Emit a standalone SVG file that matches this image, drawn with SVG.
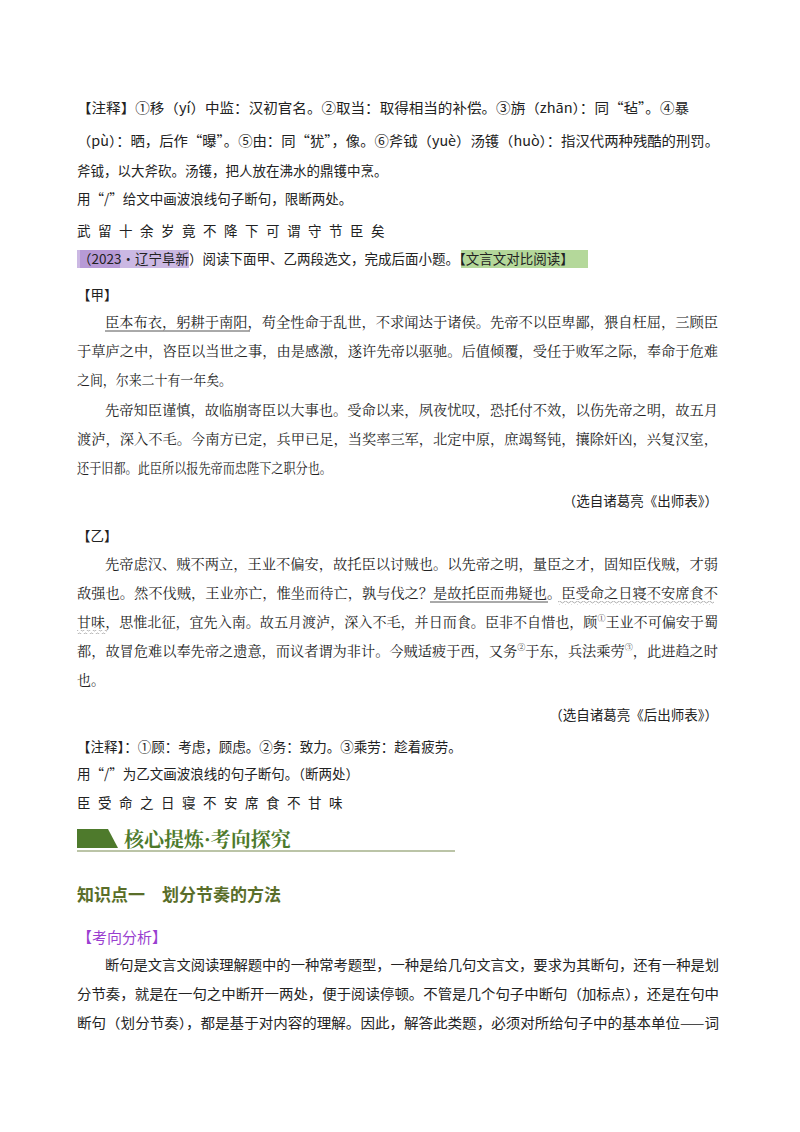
<svg xmlns="http://www.w3.org/2000/svg" width="800" height="1132" viewBox="0 0 800 1132">
<defs>
<style>
text{font-family:"Noto Sans CJK SC","Noto Sans",sans-serif;font-size:13.5px;fill:#222}
.k{font-family:"Noto Serif CJK SC","Noto Sans CJK SC",serif;font-size:14px}
.sp{letter-spacing:7.5px}
.h{font-weight:bold;fill:#5a6e2a;font-size:17px}
.p{fill:#9a3fd0;font-size:15px}
.sup{font-size:8px}
</style>
<pattern id="wave" width="6" height="4" patternUnits="userSpaceOnUse"><path d="M0 2 Q1.5 0 3 2 T6 2" fill="none" stroke="#999" stroke-width="0.8"/></pattern>
</defs>
<rect width="800" height="1132" fill="#fff"/>
<g id="notes1">
<text x="77" y="113" textLength="612" lengthAdjust="spacingAndGlyphs">【注释】①移（yí）中监：汉初官名。②取当：取得相当的补偿。③旃（zhān）：同“毡”。④暴</text>
<text x="77" y="146" textLength="642" lengthAdjust="spacingAndGlyphs">（pù）：晒，后作“曝”。⑤由：同“犹”，像。⑥斧钺（yuè）汤镬（huò）：指汉代两种残酷的刑罚。</text>
<text x="77" y="176">斧钺，以大斧砍。汤镬，把人放在沸水的鼎镬中烹。</text>
<text x="77" y="204">用“/”给文中画波浪线句子断句，限断两处。</text>
<text x="77" y="236" class="sp">武留十余岁竟不降下可谓守节臣矣</text>
</g>
<g id="source">
<rect x="77" y="250" width="112" height="18" fill="#cbb8e3"/>
<rect x="80" y="250" width="40" height="18" fill="#b79ad6"/>
<rect x="461" y="250" width="127" height="18" fill="#b4d89a"/>
<text x="78" y="264">（2023·辽宁阜新）阅读下面甲、乙两段选文，完成后面小题。【文言文对比阅读】</text>
</g>
<g id="jia">
<text x="77" y="300">【甲】</text>
<text class="k" x="105" y="327" textLength="613" lengthAdjust="spacingAndGlyphs">臣本布衣，躬耕于南阳，苟全性命于乱世，不求闻达于诸侯。先帝不以臣卑鄙，猥自枉屈，三顾臣</text>
<line x1="105" y1="331" x2="250" y2="331" stroke="#555" stroke-width="1"/>
<text class="k" x="77" y="356" textLength="641" lengthAdjust="spacingAndGlyphs">于草庐之中，咨臣以当世之事，由是感激，遂许先帝以驱驰。后值倾覆，受任于败军之际，奉命于危难</text>
<text class="k" x="77" y="385" textLength="155" lengthAdjust="spacingAndGlyphs">之间，尔来二十有一年矣。</text>
<text class="k" x="105" y="415" textLength="613" lengthAdjust="spacingAndGlyphs">先帝知臣谨慎，故临崩寄臣以大事也。受命以来，夙夜忧叹，恐托付不效，以伤先帝之明，故五月</text>
<text class="k" x="77" y="444" textLength="641" lengthAdjust="spacingAndGlyphs">渡泸，深入不毛。今南方已定，兵甲已足，当奖率三军，北定中原，庶竭驽钝，攘除奸凶，兴复汉室，</text>
<text class="k" x="77" y="473" textLength="255" lengthAdjust="spacingAndGlyphs">还于旧都。此臣所以报先帝而忠陛下之职分也。</text>
<text x="718" y="506" text-anchor="end">（选自诸葛亮《出师表》）</text>
</g>
<g id="yi">
<text x="77" y="541">【乙】</text>
<text class="k" x="105" y="569" textLength="613" lengthAdjust="spacingAndGlyphs">先帝虑汉、贼不两立，王业不偏安，故托臣以讨贼也。以先帝之明，量臣之才，固知臣伐贼，才弱</text>
<text class="k" x="77" y="598" textLength="641" lengthAdjust="spacingAndGlyphs">敌强也。然不伐贼，王业亦亡，惟坐而待亡，孰与伐之？是故托臣而弗疑也。臣受命之日寝不安席食不</text>
<line x1="430" y1="602" x2="548" y2="602" stroke="#555" stroke-width="1"/>
<rect x="558" y="601" width="156" height="4" fill="url(#wave)"/>
<text class="k" x="77" y="627" textLength="641" lengthAdjust="spacingAndGlyphs">甘味，思惟北征，宜先入南。故五月渡泸，深入不毛，并日而食。臣非不自惜也，顾<tspan class="sup" dy="-6">①</tspan><tspan dy="6">王业不可偏安于蜀</tspan></text>
<rect x="77" y="630" width="30" height="4" fill="url(#wave)"/>
<text class="k" x="77" y="656" textLength="641" lengthAdjust="spacingAndGlyphs">都，故冒危难以奉先帝之遗意，而议者谓为非计。今贼适疲于西，又务<tspan class="sup" dy="-6">②</tspan><tspan dy="6">于东，兵法乘劳</tspan><tspan class="sup" dy="-6">③</tspan><tspan dy="6">，此进趋之时</tspan></text>
<text class="k" x="77" y="685">也。</text>
<text x="718" y="720" text-anchor="end">（选自诸葛亮《后出师表》）</text>
</g>
<g id="notes2">
<text x="77" y="752">【注释】：①顾：考虑，顾虑。②务：致力。③乘劳：趁着疲劳。</text>
<text x="77" y="779">用“/”为乙文画波浪线的句子断句。（断两处）</text>
<text x="77" y="808" class="sp">臣受命之日寝不安席食不甘味</text>
</g>
<g id="banner">
<polygon points="77,829 108,829 118,848 77,848" fill="#4e7a2c"/>
<text x="124" y="847" style="font-family:'Noto Serif CJK SC','Noto Sans CJK SC',serif;font-size:20px;font-weight:bold;fill:#4e7a2c">核心提炼·考向探究</text>
<line x1="77" y1="851" x2="455" y2="851" stroke="#a5b08a" stroke-width="1.5"/>
</g>
<g id="section">
<text x="77" y="901" class="h">知识点一　划分节奏的方法</text>
<text x="77" y="943" class="p">【考向分析】</text>
<text x="105" y="970" textLength="614" lengthAdjust="spacingAndGlyphs">断句是文言文阅读理解题中的一种常考题型，一种是给几句文言文，要求为其断句，还有一种是划</text>
<text x="77" y="999" textLength="642" lengthAdjust="spacingAndGlyphs">分节奏，就是在一句之中断开一两处，便于阅读停顿。不管是几个句子中断句（加标点），还是在句中</text>
<text x="77" y="1028" textLength="642" lengthAdjust="spacingAndGlyphs">断句（划分节奏），都是基于对内容的理解。因此，解答此类题，必须对所给句子中的基本单位——词</text>
</g>
</svg>
